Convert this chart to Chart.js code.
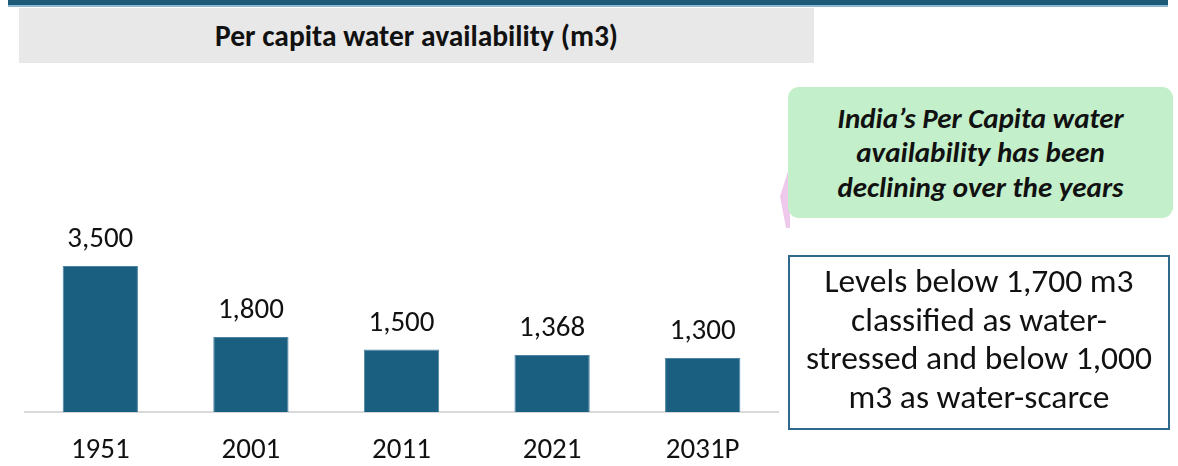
<!DOCTYPE html>
<html lang="en">
<head>
    <meta charset="UTF-8">
    <title>Per capita water availability</title>
    <script src="https://cdn.jsdelivr.net/npm/chart.js"></script>
    <style>
        body { margin: 0; width: 1178px; height: 466px; background: #fff; position: relative; overflow: hidden; font-family: Carlito, Lato, sans-serif; }
        .topRule { position: absolute; left: 8px; top: 0; width: 1160px; height: 5px; background: #1d5a78; border-bottom: 2px solid #8db8d2; }
        .titleBox { position: absolute; left: 19px; top: 8px; width: 795px; height: 55px; background: #e8e8e8;
                    display: flex; align-items: center; justify-content: center; font-weight: bold; font-size: 29.5px; color: #111; }
        .chartWrap { position: absolute; left: 0; top: 0; width: 800px; height: 490px; }
        .arrow { position: absolute; left: 780px; top: 165px; width: 10px; height: 63px; background: #efc9ec;
                 clip-path: polygon(100% 0, 0 50%, 60% 100%, 100% 100%); }
        .greenBox { position: absolute; left: 788px; top: 87px; width: 385px; height: 131px; background: #c3efca; border-radius: 11px;
                    display: flex; align-items: center; justify-content: center; text-align: center;
                    font-weight: bold; font-style: italic; font-size: 29px; line-height: 34.5px; color: #111; }
        .noteBox { position: absolute; left: 788px; top: 255px; width: 382px; height: 175px; border: 2px solid #2f6a8c; box-sizing: border-box;
                   padding-bottom: 7px; display: flex; align-items: center; justify-content: center; text-align: center;
                   font-size: 33.5px; line-height: 38.5px; color: #111; }
    </style>
</head>
<body>
    <div class="topRule"></div>
    <div class="titleBox">Per capita water availability (m3)</div>
    <div class="chartWrap"><canvas id="barChart" width="800" height="490"></canvas></div>
    <div class="arrow"></div>
    <div class="greenBox">India’s Per Capita water<br>availability has been<br>declining over the years</div>
    <div class="noteBox">Levels below 1,700 m3<br>classified as water-<br>stressed and below 1,000<br>m3 as water-scarce</div>
    <script>
        // dados do gráfico
        const anos = ['1951', '2001', '2011', '2021', '2031P'];
        const disponibilidade = [3500, 1800, 1500, 1368, 1300];

        const corBarra = '#1a5e80';
        const fonteTexto = 'Carlito, Lato, sans-serif';

        // rótulos de valor acima das barras
        const rotulosValor = {
            id: 'rotulosValor',
            afterDatasetsDraw(chart) {
                const ctx = chart.ctx;
                const meta = chart.getDatasetMeta(0);
                ctx.save();
                ctx.font = '29px ' + fonteTexto;
                ctx.fillStyle = '#111';
                ctx.textAlign = 'center';
                ctx.textBaseline = 'alphabetic';
                meta.data.forEach((bar, i) => {
                    ctx.fillText(disponibilidade[i].toLocaleString('en-US'), bar.x, bar.y - 19);
                });
                ctx.restore();
            }
        };

        new Chart(document.getElementById('barChart'), {
            type: 'bar',
            data: {
                labels: anos,
                datasets: [{
                    data: disponibilidade,
                    backgroundColor: corBarra,
                    borderColor: '#4d84a3',
                    borderWidth: 1,
                    barPercentage: 0.5,
                    categoryPercentage: 1
                }]
            },
            options: {
                responsive: false,
                animation: false,
                layout: { padding: { left: 25, right: 22, top: 144, bottom: 1 } },
                plugins: { legend: { display: false }, tooltip: { enabled: false } },
                scales: {
                    x: {
                        grid: { display: false, drawTicks: false },
                        border: { color: '#d9d9d9', width: 2 },
                        ticks: { color: '#111', padding: 21, font: { family: fonteTexto, size: 29 } }
                    },
                    y: { display: false, min: 0, max: 6425 }
                }
            },
            plugins: [rotulosValor]
        });
    </script>
</body>
</html>
